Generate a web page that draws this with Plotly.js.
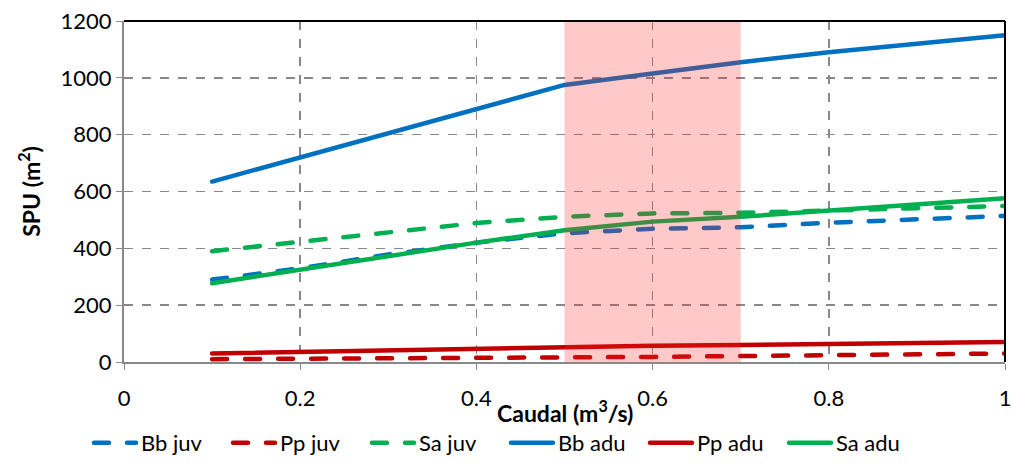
<!DOCTYPE html>
<html>
<head>
<meta charset="utf-8">
<script src="https://cdn.plot.ly/plotly-3.0.1.min.js"></script>
<style>html,body{margin:0;padding:0;background:#fff;}#chart{width:1012px;height:468px;}
#chart .scatterlayer path.js-line, #chart .legendlines path{stroke-linecap:round;}</style>
</head>
<body>
<div id="chart"></div>
<script>
const caudal = [0.1, 0.2, 0.3, 0.4, 0.5, 0.6, 0.7, 0.8, 0.9, 1.0];
const bbJuv = [290, 330, 378, 420, 453, 469, 474, 490, 502, 514];
const ppJuv = [10, 11, 12, 14, 16, 18, 21, 24, 27, 30];
const saJuv = [390, 423, 455, 489, 511, 523, 525, 532, 541, 549];
const bbAdu = [635, 720, 805, 890, 975, 1015, 1055, 1090, 1120, 1150];
const ppAdu = [30, 36, 42, 48, 54, 57, 60, 63, 66, 70];
const saAdu = [277, 325, 373, 420, 464, 494, 511, 532, 555, 576];
const seriesNames = ["Bb juv", "Pp juv", "Sa juv", "Bb adu", "Pp adu", "Sa adu"];
const shadeRange = [0.5, 0.7];
const xTicks = [0, 0.2, 0.4, 0.6, 0.8, 1];
const xTickLabels = ["0", "0.2", "0.4", "0.6", "0.8", "1"];
const yTicks = [0, 200, 400, 600, 800, 1000, 1200];
const xTitle = "<b>Caudal (m<sup>3</sup>/s)</b>";
const yTitle = "<b>SPU (m<sup>2</sup>)</b>";

const blue = "#0070C0", red = "#C00000", green = "#00B050";
const dashed = "15px,18px";
function tr(y, name, color, dash) {
  return {x: caudal, y: y, name: name, type: "scatter", mode: "lines",
    line: {color: color, width: 4.5, dash: dash}};
}
const data = [
  tr(bbJuv, seriesNames[0], blue, dashed),
  tr(ppJuv, seriesNames[1], red, dashed),
  tr(saJuv, seriesNames[2], green, dashed),
  tr(bbAdu, seriesNames[3], blue, "solid"),
  tr(ppAdu, seriesNames[4], red, "solid"),
  tr(saAdu, seriesNames[5], green, "solid")
];
const font = "Lato, 'Open Sans', sans-serif";
const layout = {
  width: 1012, height: 468,
  margin: {l: 124, r: 7, t: 21, b: 106, autoexpand: false},
  paper_bgcolor: "#fff", plot_bgcolor: "#fff",
  font: {family: font, size: 22, color: "#000"},
  showlegend: true,
  legend: {orientation: "h", x: 0.5, xanchor: "center", xref: "container",
    y: 25/468, yanchor: "middle", yref: "container",
    font: {family: font, size: 22, color: "#000"}, itemwidth: 42, entrywidth: 82,
    tracegroupgap: 0},
  xaxis: {range: [0, 1], tickvals: xTicks, ticktext: xTickLabels,
    showgrid: true, gridcolor: "#888", griddash: "dash", gridwidth: 1.5,
    showline: true, linecolor: "#888", linewidth: 2, ticklabelstandoff: 10,
    ticks: "outside", ticklen: 6, tickcolor: "#888", zeroline: false, automargin: false},
  yaxis: {range: [0, 1200], tickvals: yTicks,
    showgrid: true, gridcolor: "#888", griddash: "dash", gridwidth: 1.5,
    showline: true, linecolor: "#888", linewidth: 2,
    ticks: "outside", ticklen: 6, tickcolor: "#888", zeroline: false, automargin: false,
    title: {text: yTitle, font: {family: font, size: 23}, standoff: 14}},
  annotations: [
    {text: xTitle, xref: "paper", yref: "paper", x: 0.5, y: -0.1437, xanchor: "center", yanchor: "middle",
      showarrow: false, font: {family: font, size: 23, color: "#000"}}
  ],
  shapes: [
    {type: "rect", xref: "x", yref: "paper", x0: shadeRange[0], x1: shadeRange[1], y0: 0, y1: 1,
      fillcolor: "rgba(255,40,40,0.25)", line: {width: 0}, layer: "above"},
    {type: "line", xref: "paper", yref: "paper", x0: 0, x1: 1, y0: 1, y1: 1, line: {color: "#000", width: 2}},
    {type: "line", xref: "paper", yref: "paper", x0: 1, x1: 1, y0: 0, y1: 1, line: {color: "#000", width: 2}}
  ]
};
Plotly.newPlot("chart", data, layout, {displayModeBar: false, staticPlot: true});
</script>
</body>
</html>
